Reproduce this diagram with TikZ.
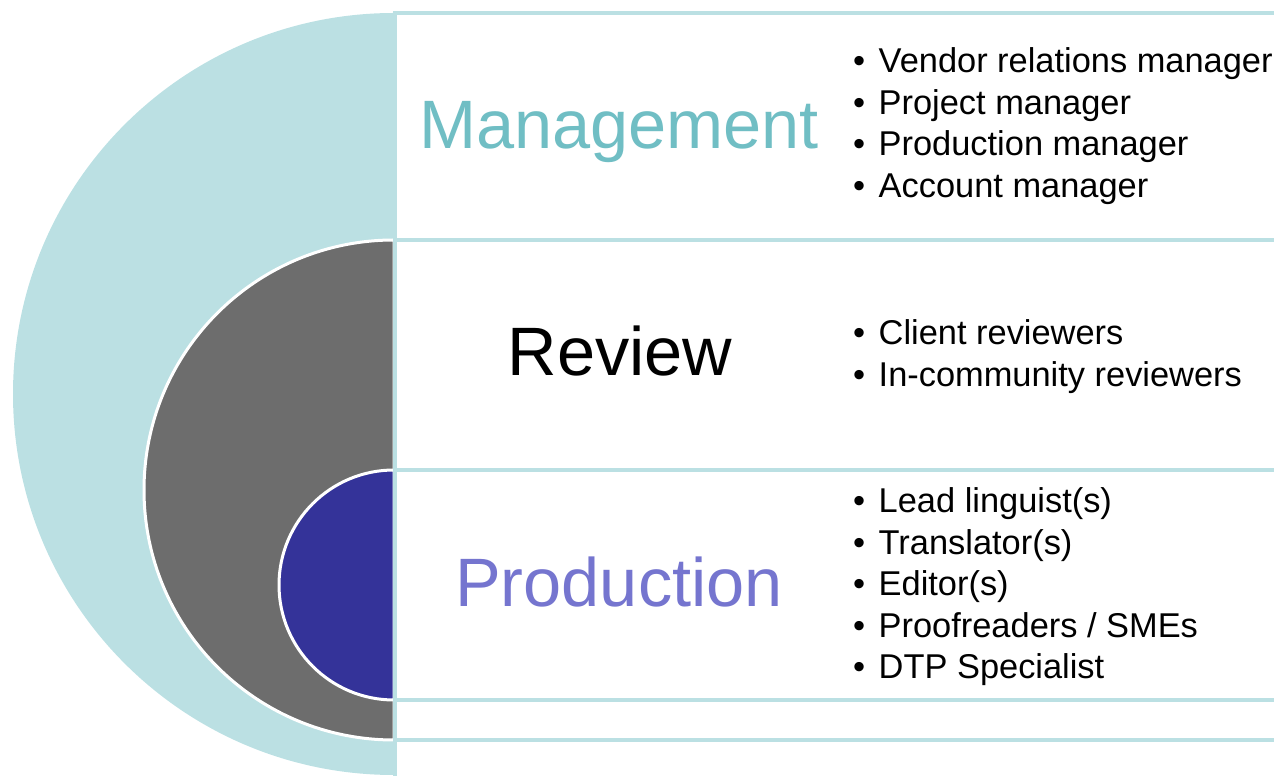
\documentclass[tikz,border=0pt]{standalone}
\usepackage{fontspec}
\setmainfont{Liberation Sans}
\usepackage{tikz}
\usetikzlibrary{positioning}
\definecolor{ring}{HTML}{BBE0E3}
\definecolor{mid}{HTML}{6D6D6D}
\definecolor{core}{HTML}{343399}
\definecolor{mgt}{HTML}{70BEC4}
\definecolor{prd}{HTML}{7575CF}
\tikzstyle{hd} = [anchor=base, inner sep=0pt, font=\fontsize{68.5}{82}\selectfont]
\tikzstyle{li} = [anchor=base west, inner sep=0pt, font=\fontsize{34.4}{41}\selectfont]
\tikzstyle{bx} = [draw=ring, fill=white, line width=4pt]
\tikzstyle{hc} = [draw=white, line width=3pt]

\begin{document}
\begin{tikzpicture}[x=1pt,y=1pt]
		\useasboundingbox (0,0) rectangle (1274,776);

		% nested half discs
		\fill[ring] (394,763) arc[start angle=90, end angle=270, radius=381] -- cycle;
		\filldraw[hc, fill=mid] (394,536) arc[start angle=90, end angle=270, radius=250] -- cycle;
		\filldraw[hc, fill=core] (394,306) arc[start angle=90, end angle=270, radius=115] -- cycle;

		% boxes
		\draw[bx] (395,763) rectangle (1300,-20);
		\draw[bx] (395,536) rectangle (1300,36);
		\draw[bx] (395,306) rectangle (1300,76);

		\node[hd, mgt] (mgmt) at (619,627) {Management};
		\node[hd] (rev) at (620,400) {Review};
		\node[hd, prd] (prod) at (619,169) {Production};

		\foreach [count=\i] \t in {Vendor relations manager, Project manager, Production manager, Account manager}
		\node[li] (m\i) at (853,{703-41.5*(\i-1)}) {\makebox[25.5pt][l]{\textbullet}\t};

		\foreach [count=\i] \t in {Client reviewers, In-community reviewers}
		\node[li] (r\i) at (853,{431-41.5*(\i-1)}) {\makebox[25.5pt][l]{\textbullet}\t};

		\foreach [count=\i] \t in {Lead linguist(s), Translator(s), Editor(s), Proofreaders / SMEs, DTP Specialist}
		\node[li] (p\i) at (853,{263-41.5*(\i-1)}) {\makebox[25.5pt][l]{\textbullet}\t};
	\end{tikzpicture}
\end{document}
